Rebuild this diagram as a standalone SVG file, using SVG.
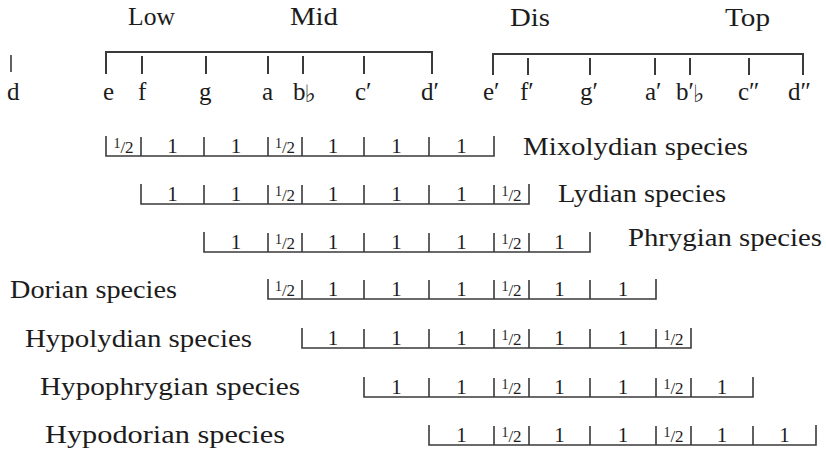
<svg xmlns="http://www.w3.org/2000/svg" width="826" height="454" viewBox="0 0 826 454">
<style>
text{font-family:"Liberation Serif","DejaVu Serif",serif;fill:#1c1c1c}
.big{font-size:25px}
.note{font-size:25px}
.n{font-size:21px;text-anchor:middle}
.fr{font-size:17px;text-anchor:middle}
.sup{font-size:14px}
.flat{font-family:"DejaVu Sans","DejaVu Serif",sans-serif;font-size:24px}
.ln{fill:none;stroke:#3a3a3a;stroke-width:1.6}
.tl{fill:none;stroke:#3a3a3a;stroke-width:2}
</style>
<rect width="826" height="454" fill="#fff"/>
<g id="registers">
<text class="big" x="128" y="25" textLength="47" lengthAdjust="spacingAndGlyphs">Low</text>
<text class="big" x="290" y="25" textLength="48" lengthAdjust="spacingAndGlyphs">Mid</text>
<text class="big" x="510" y="26" textLength="40" lengthAdjust="spacingAndGlyphs">Dis</text>
<text class="big" x="725" y="26" textLength="45" lengthAdjust="spacingAndGlyphs">Top</text>
</g>
<g id="connectors">
<path class="tl" d="M106 74V52H432V74M142 56V74M206 56V74M268 56V74M303 56V74M364 56V74"/>
<path class="tl" d="M493 75V54H803V75M528 58V75M590 58V75M655 58V75M690 58V75M749 58V75"/>
<path class="ln" d="M11 55V72"/>
</g>
<g id="notes">
<text class="note" x="7" y="100">d</text>
<text class="note" x="103" y="100">e</text>
<text class="note" x="138" y="100">f</text>
<text class="note" x="199" y="100">g</text>
<text class="note" x="262" y="100">a</text>
<text class="note" x="293" y="100">b<tspan class="flat" dx="-1" dy="2">♭</tspan></text>
<text class="note" x="355" y="100">c′</text>
<text class="note" x="421" y="100">d′</text>
<text class="note" x="483" y="100">e′</text>
<text class="note" x="520" y="100">f′</text>
<text class="note" x="580" y="100">g′</text>
<text class="note" x="645" y="100">a′</text>
<text class="note" x="676" y="100">b′<tspan class="flat" dx="-1" dy="2">♭</tspan></text>
<text class="note" x="738" y="100">c″</text>
<text class="note" x="788" y="100">d″</text>
</g>
<g id="mixolydian">
<path class="ln" d="M106 136V156H494V136M141 137V156M204 137V156M268 137V156M302 137V156M364 137V156M429 137V156"/>
<text class="fr" x="123.5" y="153"><tspan class="sup" dy="-5">1</tspan><tspan dy="5">/2</tspan></text>
<text class="n" x="172.5" y="153">1</text>
<text class="n" x="236" y="153">1</text>
<text class="fr" x="285" y="153"><tspan class="sup" dy="-5">1</tspan><tspan dy="5">/2</tspan></text>
<text class="n" x="333" y="153">1</text>
<text class="n" x="396.5" y="153">1</text>
<text class="n" x="461.5" y="153">1</text>
<text class="big" x="523" y="155" textLength="225" lengthAdjust="spacingAndGlyphs">Mixolydian species</text>
</g>
<g id="lydian">
<path class="ln" d="M141 184V204H529V184M204 185V204M268 185V204M302 185V204M364 185V204M429 185V204M494 185V204"/>
<text class="n" x="172.5" y="201">1</text>
<text class="n" x="236" y="201">1</text>
<text class="fr" x="285" y="201"><tspan class="sup" dy="-5">1</tspan><tspan dy="5">/2</tspan></text>
<text class="n" x="333" y="201">1</text>
<text class="n" x="396.5" y="201">1</text>
<text class="n" x="461.5" y="201">1</text>
<text class="fr" x="511.5" y="201"><tspan class="sup" dy="-5">1</tspan><tspan dy="5">/2</tspan></text>
<text class="big" x="558" y="202" textLength="168" lengthAdjust="spacingAndGlyphs">Lydian species</text>
</g>
<g id="phrygian">
<path class="ln" d="M204 232V252H590V232M268 233V252M302 233V252M364 233V252M429 233V252M494 233V252M529 233V252"/>
<text class="n" x="236" y="249">1</text>
<text class="fr" x="285" y="249"><tspan class="sup" dy="-5">1</tspan><tspan dy="5">/2</tspan></text>
<text class="n" x="333" y="249">1</text>
<text class="n" x="396.5" y="249">1</text>
<text class="n" x="461.5" y="249">1</text>
<text class="fr" x="511.5" y="249"><tspan class="sup" dy="-5">1</tspan><tspan dy="5">/2</tspan></text>
<text class="n" x="559.5" y="249">1</text>
<text class="big" x="628" y="246" textLength="194" lengthAdjust="spacingAndGlyphs">Phrygian species</text>
</g>
<g id="dorian">
<path class="ln" d="M268 279V299H656V279M302 280V299M364 280V299M429 280V299M494 280V299M529 280V299M590 280V299"/>
<text class="fr" x="285" y="296"><tspan class="sup" dy="-5">1</tspan><tspan dy="5">/2</tspan></text>
<text class="n" x="333" y="296">1</text>
<text class="n" x="396.5" y="296">1</text>
<text class="n" x="461.5" y="296">1</text>
<text class="fr" x="511.5" y="296"><tspan class="sup" dy="-5">1</tspan><tspan dy="5">/2</tspan></text>
<text class="n" x="559.5" y="296">1</text>
<text class="n" x="623" y="296">1</text>
<text class="big" x="10" y="298" textLength="167" lengthAdjust="spacingAndGlyphs">Dorian species</text>
</g>
<g id="hypolydian">
<path class="ln" d="M302 328V348H691V328M364 329V348M429 329V348M494 329V348M529 329V348M590 329V348M656 329V348"/>
<text class="n" x="333" y="345">1</text>
<text class="n" x="396.5" y="345">1</text>
<text class="n" x="461.5" y="345">1</text>
<text class="fr" x="511.5" y="345"><tspan class="sup" dy="-5">1</tspan><tspan dy="5">/2</tspan></text>
<text class="n" x="559.5" y="345">1</text>
<text class="n" x="623" y="345">1</text>
<text class="fr" x="673.5" y="345"><tspan class="sup" dy="-5">1</tspan><tspan dy="5">/2</tspan></text>
<text class="big" x="25" y="347" textLength="227" lengthAdjust="spacingAndGlyphs">Hypolydian species</text>
</g>
<g id="hypophrygian">
<path class="ln" d="M364 377V397H753V377M429 378V397M494 378V397M529 378V397M590 378V397M656 378V397M691 378V397"/>
<text class="n" x="396.5" y="394">1</text>
<text class="n" x="461.5" y="394">1</text>
<text class="fr" x="511.5" y="394"><tspan class="sup" dy="-5">1</tspan><tspan dy="5">/2</tspan></text>
<text class="n" x="559.5" y="394">1</text>
<text class="n" x="623" y="394">1</text>
<text class="fr" x="673.5" y="394"><tspan class="sup" dy="-5">1</tspan><tspan dy="5">/2</tspan></text>
<text class="n" x="722" y="394">1</text>
<text class="big" x="40" y="395" textLength="260" lengthAdjust="spacingAndGlyphs">Hypophrygian species</text>
</g>
<g id="hypodorian">
<path class="ln" d="M429 425V445H816V425M494 426V445M529 426V445M590 426V445M656 426V445M691 426V445M753 426V445"/>
<text class="n" x="461.5" y="442">1</text>
<text class="fr" x="511.5" y="442"><tspan class="sup" dy="-5">1</tspan><tspan dy="5">/2</tspan></text>
<text class="n" x="559.5" y="442">1</text>
<text class="n" x="623" y="442">1</text>
<text class="fr" x="673.5" y="442"><tspan class="sup" dy="-5">1</tspan><tspan dy="5">/2</tspan></text>
<text class="n" x="722" y="442">1</text>
<text class="n" x="784.5" y="442">1</text>
<text class="big" x="45" y="443" textLength="240" lengthAdjust="spacingAndGlyphs">Hypodorian species</text>
</g>
</svg>
